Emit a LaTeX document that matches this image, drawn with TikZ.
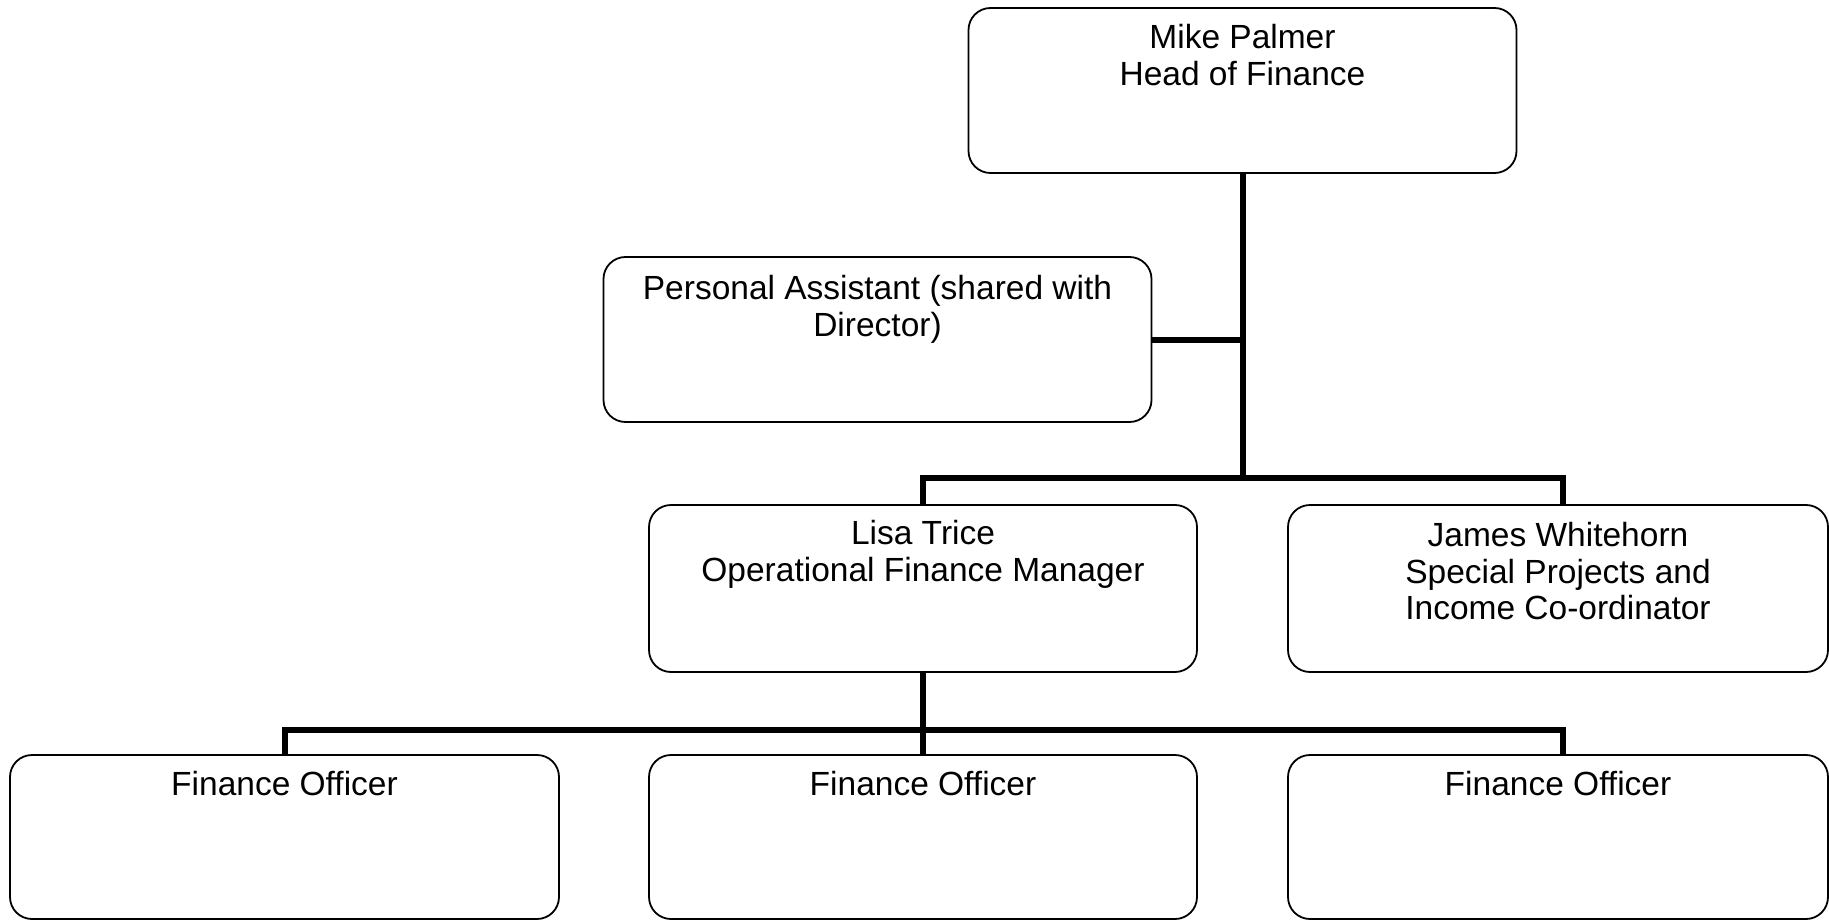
\documentclass[tikz,border=0pt]{standalone}
\usepackage{fontspec}
\setmainfont{Liberation Sans}
\begin{document}
\begin{tikzpicture}[x=1pt,y=-1pt,
  box/.style={draw=black, line width=1.8pt, rounded corners=22pt, minimum width=548pt, minimum height=165pt, inner sep=0pt},
  lbl/.style={anchor=north, align=center, inner sep=0pt, font=\fontsize{33.5}{36.5}\selectfont},
  conn/.style={draw=black, line width=6pt}]
\useasboundingbox (0,0) rectangle (1829,920);
% boxes
\node[box] (head) at (1242.5,90.5) {};
\node[box] (pa) at (877.5,339.5) {};
\node[box, minimum height=167pt] (lisa) at (923,588.5) {};
\node[box, minimum height=167pt, minimum width=540pt] (james) at (1558,588.5) {};
\node[box, minimum height=164pt, minimum width=549pt] (fo1) at (284.5,837) {};
\node[box, minimum height=164pt] (fo2) at (923,837) {};
\node[box, minimum height=164pt, minimum width=540pt] (fo3) at (1558,837) {};
% labels
\node[lbl] (headt) at ([yshift=-17pt]head.north) {Mike Palmer\\Head of Finance};
\node[lbl] (pat) at ([yshift=-19pt]pa.north) {Personal Assistant (shared with\\Director)};
\node[lbl] (lisat) at ([yshift=-16pt]lisa.north) {Lisa Trice\\Operational Finance Manager};
\node[lbl] (jamest) at ([yshift=-18pt]james.north) {James Whitehorn\\Special Projects and\\Income Co-ordinator};
\node[lbl] (fo1t) at ([yshift=-17pt]fo1.north) {Finance Officer};
\node[lbl] (fo2t) at ([yshift=-17pt]fo2.north) {Finance Officer};
\node[lbl] (fo3t) at ([yshift=-17pt]fo3.north) {Finance Officer};
% junction coordinates
\coordinate (j1) at (1242.5,478);
\coordinate (b1r) at (1563,478);
\coordinate (j2) at (923,730);
\coordinate (b2r) at (1563,730);
% connectors
\draw[conn] (head.south) -- (j1);
\draw[conn] (pa.east) -- (pa.east -| head.south);
\draw[conn] (lisa.north) |- (j1) -| (b1r |- james.north);
\draw[conn] (lisa.south) -- (j2);
\draw[conn] (fo1.north) |- (j2) -| (b2r |- fo3.north);
\draw[conn] (j2) -- (fo2.north);
\end{tikzpicture}
\end{document}
